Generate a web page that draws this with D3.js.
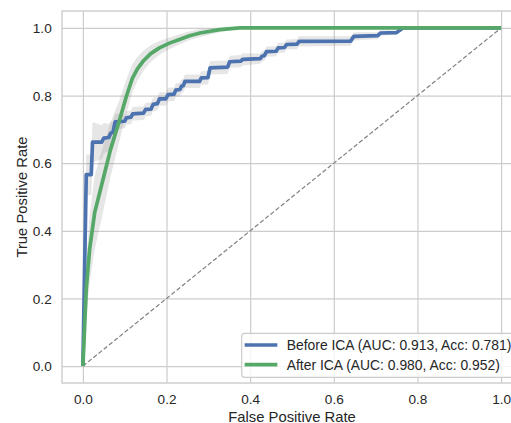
<!DOCTYPE html>
<html>
<head>
<meta charset="utf-8">
<script src="https://cdn.jsdelivr.net/npm/d3@7"></script>
<style>
  body { margin: 0; background: #fff; }
  svg { display: block; font-family: "Liberation Sans", Arial, sans-serif; }
</style>
</head>
<body>
<svg class="chart" width="511" height="423"></svg>
<script>
const width = 511;
const height = 423;

// [fpr, mean tpr, std]
const beforeICA = [
  [0.000, 0.000, 0.000], [0.008, 0.566, 0.060], [0.020, 0.566, 0.060], [0.023, 0.662, 0.060],
  [0.045, 0.662, 0.050], [0.050, 0.674, 0.045], [0.062, 0.676, 0.040], [0.066, 0.688, 0.035],
  [0.072, 0.692, 0.030], [0.077, 0.722, 0.025], [0.100, 0.724, 0.020], [0.104, 0.734, 0.020],
  [0.115, 0.736, 0.020], [0.119, 0.746, 0.020], [0.145, 0.748, 0.020], [0.150, 0.759, 0.020],
  [0.163, 0.760, 0.020], [0.168, 0.774, 0.020], [0.178, 0.776, 0.020], [0.183, 0.790, 0.020],
  [0.198, 0.790, 0.020], [0.204, 0.803, 0.020], [0.218, 0.804, 0.020], [0.222, 0.816, 0.020],
  [0.232, 0.818, 0.020], [0.236, 0.828, 0.020], [0.240, 0.829, 0.020], [0.244, 0.842, 0.020],
  [0.279, 0.842, 0.020], [0.283, 0.852, 0.020], [0.299, 0.853, 0.020], [0.304, 0.882, 0.020],
  [0.346, 0.884, 0.020], [0.351, 0.900, 0.018], [0.378, 0.902, 0.018], [0.382, 0.907, 0.018],
  [0.424, 0.909, 0.015], [0.428, 0.916, 0.015], [0.434, 0.918, 0.015], [0.439, 0.930, 0.015],
  [0.462, 0.931, 0.015], [0.467, 0.941, 0.015], [0.482, 0.942, 0.015], [0.487, 0.951, 0.015],
  [0.512, 0.952, 0.015], [0.517, 0.960, 0.015], [0.640, 0.961, 0.014], [0.648, 0.975, 0.012],
  [0.705, 0.977, 0.010], [0.712, 0.985, 0.008], [0.750, 0.986, 0.006], [0.765, 1.000, 0.000],
  [1.000, 1.000, 0.000]
];

const afterICA = [
  [0.000, 0.000, 0.000], [0.008, 0.227, 0.080], [0.016, 0.345, 0.100], [0.028, 0.453, 0.110],
  [0.044, 0.532, 0.100], [0.066, 0.640, 0.080], [0.088, 0.729, 0.060], [0.104, 0.798, 0.050],
  [0.118, 0.850, 0.042], [0.130, 0.878, 0.036], [0.145, 0.903, 0.030], [0.162, 0.924, 0.025],
  [0.183, 0.941, 0.020], [0.207, 0.955, 0.017], [0.231, 0.966, 0.015], [0.255, 0.977, 0.013],
  [0.280, 0.985, 0.012], [0.327, 0.995, 0.008], [0.375, 1.000, 0.000], [1.000, 1.000, 0.000]
];

const seriesNames = ["Before ICA (AUC: 0.913, Acc: 0.781)", "After ICA (AUC: 0.980, Acc: 0.952)"];
const seriesColors = ["#4c72b0", "#55a868"];
const tickValues = [0, 0.2, 0.4, 0.6, 0.8, 1.0];

const svg = d3.select(".chart");

const axLeft = 62, axRight = 522, axTop = 11, axBottom = 383;

const x = d3.scaleLinear().domain([-0.05, 1.05]).range([axLeft, axRight]);
const y = d3.scaleLinear().domain([-0.05, 1.05]).range([axBottom, axTop]);

svg.append("clipPath").attr("id", "clip")
  .append("rect").attr("x", axLeft).attr("y", axTop)
  .attr("width", axRight - axLeft).attr("height", axBottom - axTop);

// grid
svg.append("g")
  .attr("transform", `translate(0,${axBottom})`)
  .call(d3.axisBottom(x).tickValues(tickValues).tickSize(-(axBottom - axTop)).tickFormat(""))
  .call(g => g.select(".domain").remove())
  .call(g => g.selectAll("line").attr("stroke", "#cccccc").attr("stroke-width", 1.2));
svg.append("g")
  .attr("transform", `translate(${axLeft},0)`)
  .call(d3.axisLeft(y).tickValues(tickValues).tickSize(-(axRight - axLeft)).tickFormat(""))
  .call(g => g.select(".domain").remove())
  .call(g => g.selectAll("line").attr("stroke", "#cccccc").attr("stroke-width", 1.2));

// tick labels
svg.append("g")
  .attr("transform", `translate(0,${axBottom})`)
  .call(d3.axisBottom(x).tickValues(tickValues).tickSize(0).tickFormat(d3.format(".1f")))
  .call(g => g.select(".domain").remove())
  .call(g => g.selectAll("text").attr("y", 21).attr("dy", 0)
    .attr("fill", "#262626").style("font-size", "13.6px").style("font-family", "Liberation Sans, Arial, sans-serif"));
svg.append("g")
  .attr("transform", `translate(${axLeft},0)`)
  .call(d3.axisLeft(y).tickValues(tickValues).tickSize(0).tickFormat(d3.format(".1f")))
  .call(g => g.select(".domain").remove())
  .call(g => g.selectAll("text").attr("x", -10.3).attr("dy", "0.34em")
    .attr("fill", "#262626").style("font-size", "13.6px").style("font-family", "Liberation Sans, Arial, sans-serif"));

// bands
const band = d3.area()
  .x(d => x(d[0]))
  .y0(d => y(Math.max(d[1] - d[2], 0)))
  .y1(d => y(Math.min(d[1] + d[2], 1)));

const plot = svg.append("g").attr("clip-path", "url(#clip)");
[beforeICA, afterICA].forEach(s => {
  plot.append("path").attr("d", band(s)).attr("fill", "grey").attr("opacity", 0.2);
});

// chance line
plot.append("line")
  .attr("x1", x(0)).attr("y1", y(0)).attr("x2", x(1)).attr("y2", y(1))
  .attr("stroke", "#808080").attr("stroke-width", 1.2).attr("stroke-dasharray", "4.5,2.2");

const line = d3.line().x(d => x(d[0])).y(d => y(d[1]));
[beforeICA, afterICA].forEach((s, i) => {
  plot.append("path").attr("d", line(s)).attr("fill", "none")
    .attr("stroke", seriesColors[i]).attr("stroke-width", 3.7).attr("stroke-linejoin", "round");
});

// frame
svg.append("rect")
  .attr("x", axLeft).attr("y", axTop).attr("width", axRight - axLeft).attr("height", axBottom - axTop)
  .attr("fill", "none").attr("stroke", "#cccccc").attr("stroke-width", 1.4);

// axis labels
svg.append("text")
  .attr("x", (axLeft + axRight) / 2).attr("y", 421.5)
  .attr("text-anchor", "middle").attr("fill", "#262626").style("font-size", "14.8px")
  .text("False Positive Rate");
svg.append("text")
  .attr("transform", `translate(26.5,${(axTop + axBottom) / 2}) rotate(-90)`)
  .attr("text-anchor", "middle").attr("fill", "#262626").style("font-size", "14.8px")
  .text("True Positive Rate");

// legend
const legend = svg.append("g");
legend.append("rect")
  .attr("x", 241.7).attr("y", 333.3).attr("width", 275).attr("height", 44).attr("rx", 3)
  .attr("fill", "white").attr("fill-opacity", 0.8).attr("stroke", "#cccccc").attr("stroke-width", 1.2);
seriesNames.forEach((name, i) => {
  const cy = 345 + i * 19.7;
  legend.append("line")
    .attr("x1", 246.5).attr("x2", 275.5).attr("y1", cy).attr("y2", cy)
    .attr("stroke", seriesColors[i]).attr("stroke-width", 3.7).attr("stroke-linecap", "square");
  legend.append("text")
    .attr("x", 286.7).attr("y", cy + 4.8)
    .attr("fill", "#262626").style("font-size", "13.9px")
    .text(name);
});
</script>
</body>
</html>
